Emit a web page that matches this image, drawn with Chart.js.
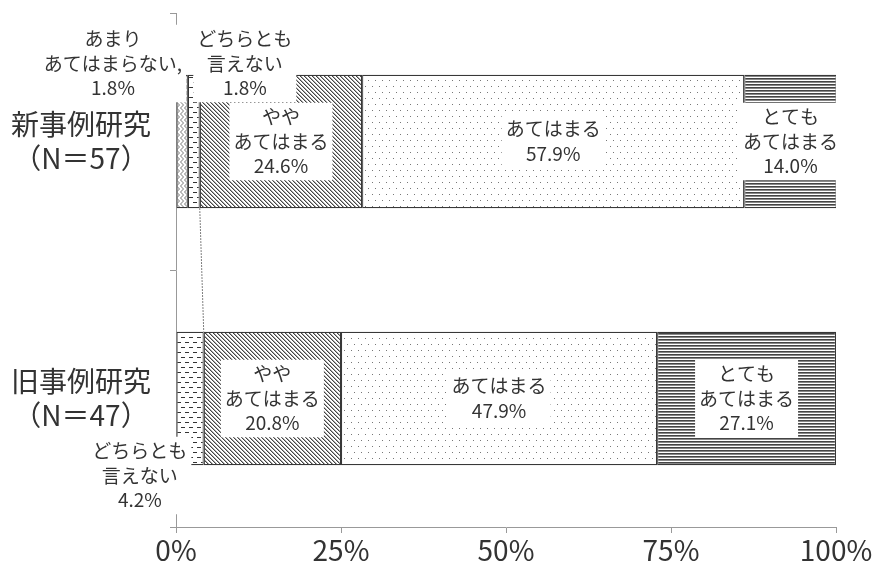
<!DOCTYPE html>
<html lang="ja">
<head>
<meta charset="utf-8">
<title>事例研究 評価</title>
<script src="https://cdn.jsdelivr.net/npm/chart.js@4/dist/chart.umd.min.js"></script>
<style>
    html, body { margin: 0; padding: 0; background: #fff; }
    canvas { display: block; }
</style>
</head>
<body>
<canvas id="evalChart" width="874" height="565"></canvas>
<script>
// ================================================
// 事例研究の評価 - 100% stacked horizontal bars
// ================================================

const categories = [['新事例研究', '（N＝57）'], ['旧事例研究', '（N＝47）']];
const seriesNames = ['あまりあてはまらない', 'どちらとも言えない', 'ややあてはまる', 'あてはまる', 'とてもあてはまる'];
const seriesLines = [['あまり', 'あてはまらない,'], ['どちらとも', '言えない'], ['やや', 'あてはまる'], ['あてはまる'], ['とても', 'あてはまる']];
const newCase = [1.8, 1.8, 24.6, 57.9, 14.0];
const oldCase = [null, 4.2, 20.8, 47.9, 27.1];
const xTicks = [0, 25, 50, 75, 100];

const FONT = "'Noto Sans CJK JP', 'Noto Sans', sans-serif";
const INK = '#333';

// labels of the thin segments sit outside the bar (category-series -> px shift)
const labelShift = {
    '0-0': [-69, -78],
    '0-1': [51, -78],
    '1-1': [-50, 77]
};

function makePattern(w, h, draw) {
    const c = document.createElement('canvas');
    c.width = w;
    c.height = h;
    const g = c.getContext('2d');
    g.fillStyle = '#fff';
    g.fillRect(0, 0, w, h);
    draw(g);
    return g.createPattern(c, 'repeat');
}

const patterns = [
    // zigzag
    makePattern(4, 6, g => {
        g.strokeStyle = '#777';
        g.lineWidth = 1;
        g.beginPath();
        g.moveTo(0.5, 0);
        g.lineTo(3.5, 3);
        g.lineTo(0.5, 6);
        g.stroke();
    }),
    // short dashes
    makePattern(8, 10, g => {
        g.fillStyle = '#333';
        g.fillRect(1, 2, 4, 1);
        g.fillRect(5, 7, 3, 1);
        g.fillRect(0, 7, 1, 1);
    }),
    // backslash hatch
    makePattern(4, 4, g => {
        for (let i = 0; i < 4; i++) {
            g.fillStyle = '#444';
            g.fillRect(i, i, 1, 1);
            g.fillStyle = '#aaa';
            g.fillRect((i + 1) % 4, i, 1, 1);
        }
    }),
    // sparse dots
    makePattern(7, 12, g => {
        g.fillStyle = '#777';
        g.fillRect(1, 2, 1, 1);
        g.fillRect(4, 8, 1, 1);
    }),
    // dense horizontal lines
    makePattern(4, 3, g => {
        g.fillStyle = '#444';
        g.fillRect(0, 0, 4, 1);
        g.fillStyle = '#888';
        g.fillRect(0, 1, 4, 1);
    })
];

const rows = [newCase, oldCase];

// dotted series line + boxed value labels
const labelPlugin = {
    id: 'segmentLabels',
    afterDatasetsDraw(chart) {
        const ctx = chart.ctx;
        const xs = chart.scales.x;
        const ys = chart.scales.y;

        // series line after the "どちらとも言えない" series
        const m = chart.getDatasetMeta(1);
        const a = m.data[0];
        const b = m.data[1];
        ctx.save();
        ctx.strokeStyle = '#555';
        ctx.lineWidth = 1;
        ctx.setLineDash([1.5, 1.5]);
        ctx.beginPath();
        ctx.moveTo(a.x, a.y + a.height / 2);
        ctx.lineTo(b.x, b.y - b.height / 2);
        ctx.stroke();
        ctx.restore();

        ctx.save();
        ctx.font = '19px ' + FONT;
        ctx.textAlign = 'center';
        ctx.textBaseline = 'middle';
        const lineH = 24.5;
        rows.forEach((vals, ci) => {
            let start = 0;
            vals.forEach((v, si) => {
                if (v == null) return;
                const lines = seriesLines[si].concat([v.toFixed(1) + '%']);
                const shift = labelShift[ci + '-' + si] || [0, 0];
                const cx = xs.getPixelForValue(start + v / 2) + shift[0];
                const cy = ys.getPixelForValue(ci) + shift[1];
                start += v;

                const w = Math.max(...lines.map(t => ctx.measureText(t).width)) + 8;
                const h = lines.length * lineH + 4;
                ctx.fillStyle = '#fff';
                ctx.fillRect(cx - w / 2, cy - h / 2, w, h);
                ctx.fillStyle = INK;
                lines.forEach((t, li) => {
                    ctx.fillText(t, cx, cy + (li - (lines.length - 1) / 2) * lineH);
                });
            });
        });
        ctx.restore();
    }
};

Chart.defaults.font.family = FONT;
Chart.defaults.color = INK;

new Chart(document.getElementById('evalChart'), {
    type: 'bar',
    data: {
        labels: categories,
        datasets: seriesNames.map((name, i) => ({
            label: name,
            data: [newCase[i], oldCase[i]],
            backgroundColor: patterns[i],
            borderColor: '#383838',
            borderWidth: 1.2,
            borderSkipped: false,
            barPercentage: 0.52,
            categoryPercentage: 1
        }))
    },
    options: {
        indexAxis: 'y',
        responsive: false,
        animation: false,
        layout: { padding: { top: 13, right: 38, left: 0, bottom: 0 } },
        plugins: {
            legend: { display: false },
            tooltip: { enabled: false }
        },
        scales: {
            x: {
                stacked: true,
                min: 0,
                max: 100,
                afterBuildTicks: s => { s.ticks = xTicks.map(v => ({ value: v })); },
                afterFit: s => { s.height = 38; },
                ticks: {
                    callback: v => v + '%',
                    font: { size: 28 },
                    color: INK,
                    padding: 1,
                    maxRotation: 0
                },
                grid: { drawOnChartArea: false, tickLength: 6, color: '#999' },
                border: { color: '#999' }
            },
            y: {
                stacked: true,
                afterFit: s => {
                    s.width = 176;
                    s.paddingTop = 0;
                    s.paddingBottom = 0;
                },
                ticks: {
                    crossAlign: 'center',
                    padding: 19,
                    font: { size: 28 },
                    color: INK
                },
                grid: { drawOnChartArea: false, offset: true, tickLength: 6, color: '#999' },
                border: { color: '#999' }
            }
        }
    },
    plugins: [labelPlugin]
});
</script>
</body>
</html>
